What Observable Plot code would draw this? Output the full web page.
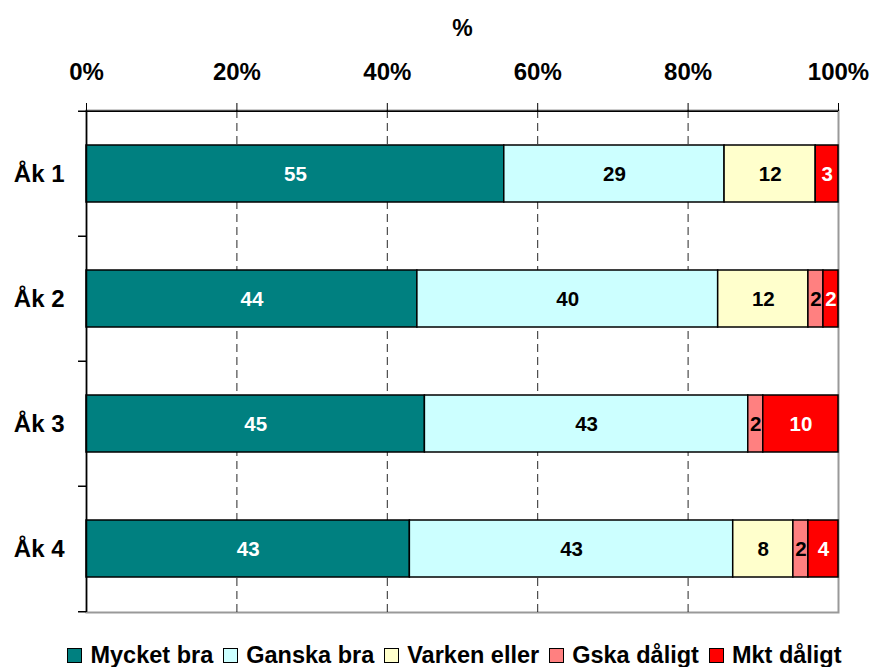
<!DOCTYPE html>
<html>
<head>
<meta charset="utf-8">
<script src="https://cdn.jsdelivr.net/npm/d3@7"></script>
<script src="https://cdn.jsdelivr.net/npm/@observablehq/plot@0.6"></script>
<style>
  body { margin: 0; background: #fff; font-family: "Liberation Sans", Arial, sans-serif; }
  #legend { display: flex; justify-content: center; align-items: center; height: 35px; padding-top: 6px; padding-left: 36px; font-weight: bold; font-size: 23.5px; color: #000; }
  .item { display: flex; align-items: center; margin: 0 5px; }
  .sw { width: 13px; height: 13px; border: 1.5px solid #000; margin-right: 8px; }
</style>
</head>
<body>
<div id="chart"></div>
<div id="legend"></div>
<script>
const categories = ["Åk 1", "Åk 2", "Åk 3", "Åk 4"];
const series = ["Mycket bra", "Ganska bra", "Varken eller", "Gska dåligt", "Mkt dåligt"];
const colors = ["#008080", "#CCFFFF", "#FFFFCC", "#FF8080", "#FF0000"];
const mycketBra   = [55, 44, 45, 43];
const ganskaBra   = [29, 40, 43, 43];
const varkenEller = [12, 12, 0, 8];
const gskaDaligt  = [0, 2, 2, 2];
const mktDaligt   = [3, 2, 10, 4];
const xTicks = [0, 0.2, 0.4, 0.6, 0.8, 1];
const whiteLabelSeries = ["Mycket bra", "Mkt dåligt"];

const seriesValues = [mycketBra, ganskaBra, varkenEller, gskaDaligt, mktDaligt];
const data = [];
categories.forEach((cat, i) => {
  series.forEach((s, j) => {
    const v = seriesValues[j][i];
    if (v > 0) data.push({cat, series: s, value: v});
  });
});

const W = 873, H = 632, mt = 110, mb = 20, ml = 86, mr = 35;
const step = (H - mt - mb) / categories.length;

const stackOpts = (extra) => Plot.stackX({
  x: "value", y: "cat", z: "series", order: series, offset: "normalize", ...extra
});

const chart = Plot.plot({
  width: W, height: H,
  marginTop: mt, marginBottom: mb, marginLeft: ml, marginRight: mr,
  style: {fontFamily: "'Liberation Sans', Arial, sans-serif", fontWeight: "bold", background: "#fff"},
  x: {domain: [0, 1]},
  y: {domain: categories, paddingInner: 0.54, paddingOuter: 0.27},
  color: {domain: series, range: colors},
  marks: [
    Plot.frame({stroke: "#999", strokeWidth: 2}),
    Plot.gridX(xTicks.slice(1, -1), {stroke: "#000", strokeOpacity: 0.85, strokeDasharray: "8,5", strokeWidth: 1}),
    Plot.barX(data, stackOpts({fill: "series", stroke: "#000", strokeWidth: 1.5})),
    Plot.text(data, stackOpts({
      text: d => whiteLabelSeries.includes(d.series) ? d.value : null,
      fill: "white", fontSize: 20.5, fontWeight: "bold"
    })),
    Plot.text(data, stackOpts({
      text: d => whiteLabelSeries.includes(d.series) ? null : d.value,
      fill: "black", fontSize: 20.5, fontWeight: "bold"
    })),
    Plot.ruleX([0], {stroke: "#000", strokeWidth: 1.5}),
    Plot.ruleY(categories, {y: d => d, x1: 0, x2: -0.0106, dy: -step / 2, stroke: "#000", strokeWidth: 1.5, clip: false}),
    Plot.ruleY(categories.slice(-1), {y: d => d, x1: 0, x2: -0.0106, dy: step / 2, stroke: "#000", strokeWidth: 1.5, clip: false}),
    Plot.ruleY(categories.slice(0, 1), {y: d => d, x1: 0, x2: 1, dy: -step / 2, stroke: "#000", strokeWidth: 1.5}),
    Plot.axisX(xTicks, {anchor: "top", tickFormat: d3.format(".0%"), tickSize: 8, tickPadding: 23, fontSize: 24, fontWeight: "bold", stroke: "#000", label: null}),
    Plot.axisY({tickSize: 0, tickPadding: 22, fontSize: 24, fontWeight: "bold", label: null}),
    Plot.text(["%"], {frameAnchor: "top", text: d => d, dy: -91, fontSize: 23, fontWeight: "bold"})
  ]
});
document.getElementById("chart").appendChild(chart);

const legend = document.getElementById("legend");
series.forEach((s, i) => {
  const item = document.createElement("div");
  item.className = "item";
  const sw = document.createElement("div");
  sw.className = "sw";
  sw.style.background = colors[i];
  const t = document.createElement("span");
  t.textContent = s;
  item.appendChild(sw);
  item.appendChild(t);
  legend.appendChild(item);
});
</script>
</body>
</html>
